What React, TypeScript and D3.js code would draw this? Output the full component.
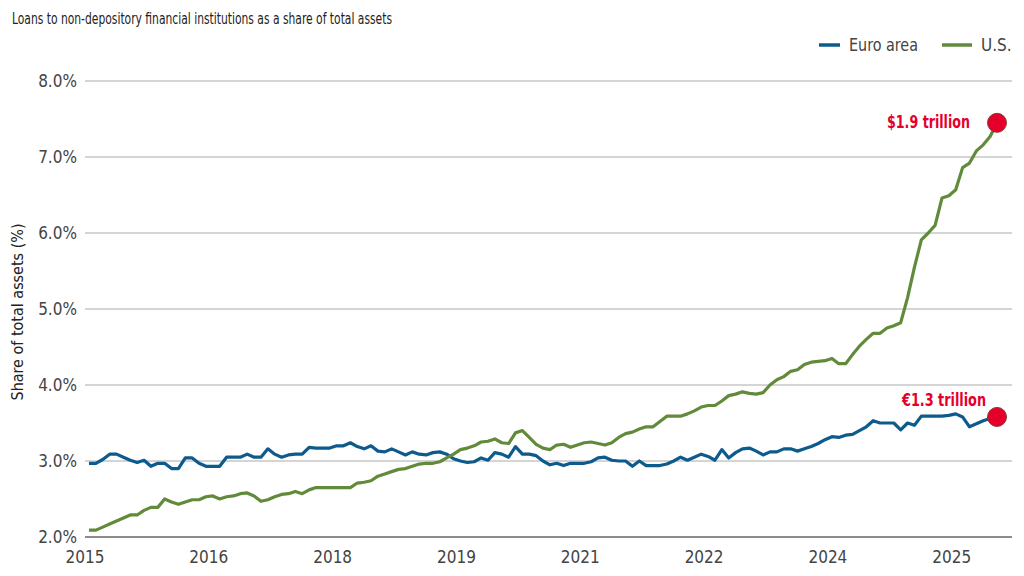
import React from "react";
import { scaleLinear, line, curveLinear } from "d3";

// monthly observations, Jan 2015 .. Jan 2026
const euroArea = [
  2.97, 2.97, 3.02, 3.09, 3.09, 3.05, 3.01, 2.98, 3.01, 2.93, 2.97, 2.97, 2.9, 2.9, 3.04, 3.04, 2.97, 2.93, 2.93,
  2.93, 3.05, 3.05, 3.05, 3.09, 3.05, 3.05, 3.16, 3.09, 3.05, 3.08, 3.09, 3.09, 3.18, 3.17, 3.17, 3.17, 3.2, 3.2,
  3.24, 3.19, 3.16, 3.2, 3.13, 3.12, 3.16, 3.12, 3.08, 3.12, 3.09, 3.08, 3.11, 3.12, 3.09, 3.03, 3.0, 2.98, 2.99,
  3.04, 3.01, 3.11, 3.09, 3.05, 3.19, 3.09, 3.09, 3.07, 3.0, 2.95, 2.97, 2.94, 2.97, 2.97, 2.97, 2.99, 3.04, 3.05,
  3.01, 3.0, 3.0, 2.93, 3.0, 2.94, 2.94, 2.94, 2.96, 3.0, 3.05, 3.01, 3.05, 3.09, 3.06, 3.01, 3.15, 3.04, 3.11,
  3.16, 3.17, 3.13, 3.08, 3.12, 3.12, 3.16, 3.16, 3.13, 3.16, 3.19, 3.23, 3.28, 3.32, 3.31, 3.34, 3.35, 3.4, 3.45,
  3.53, 3.5, 3.5, 3.5, 3.41, 3.5, 3.47, 3.59, 3.59, 3.59, 3.59, 3.6, 3.62, 3.58, 3.45, 3.49, 3.53, 3.56, 3.58,
];

const us = [
  2.09, 2.09, 2.13, 2.17, 2.21, 2.25, 2.29, 2.29, 2.35, 2.39, 2.39, 2.5, 2.46, 2.43, 2.46, 2.49, 2.49, 2.53, 2.54,
  2.5, 2.53, 2.54, 2.57, 2.58, 2.54, 2.47, 2.49, 2.53, 2.56, 2.57, 2.6, 2.57, 2.62, 2.65, 2.65, 2.65, 2.65, 2.65,
  2.65, 2.71, 2.72, 2.74, 2.8, 2.83, 2.86, 2.89, 2.9, 2.93, 2.96, 2.97, 2.97, 2.99, 3.04, 3.09, 3.15, 3.17, 3.2,
  3.25, 3.26, 3.29, 3.24, 3.23, 3.37, 3.4, 3.31, 3.22, 3.17, 3.15, 3.21, 3.22, 3.18, 3.21, 3.24, 3.25, 3.23, 3.21,
  3.24, 3.31, 3.36, 3.38, 3.42, 3.45, 3.45, 3.52, 3.59, 3.59, 3.59, 3.62, 3.66, 3.71, 3.73, 3.73, 3.79, 3.86, 3.88,
  3.91, 3.89, 3.88, 3.9, 4.0, 4.07, 4.11, 4.18, 4.2, 4.27, 4.3, 4.31, 4.32, 4.35, 4.28, 4.28, 4.4, 4.51, 4.6,
  4.68, 4.68, 4.75, 4.78, 4.82, 5.15, 5.55, 5.91, 6.0, 6.1, 6.46, 6.49, 6.57, 6.86, 6.92, 7.08, 7.16, 7.27, 7.45,
];

// a label every 18 months
const xTickLabels = ["2015", "2016", "2018", "2019", "2021", "2022", "2024", "2025"];
const xTickStep = 18;
const yTicks = [2, 3, 4, 5, 6, 7, 8];

const seriesNames = ["Euro area", "U.S."];
const endLabels = ["€1.3 trillion", "$1.9 trillion"];

const BLUE = "#0d5b8c";
const GREEN = "#618b3b";
const RED = "#e4002b";
const FONT = "'Liberation Sans Narrow', 'DejaVu Sans Condensed', Roboto, sans-serif";

export default function App() {
  const width = 1024,
    height = 576;

  const x = scaleLinear()
    .domain([0, us.length - 1])
    .range([89, 997]);

  const y = scaleLinear().domain([2, 8]).range([537, 81]);

  const path = line<number>()
    .x((d, i) => x(i))
    .y(d => y(d))
    .curve(curveLinear);

  const series = [
    { name: seriesNames[0], values: euroArea, color: BLUE, label: endLabels[0], dx: -11, dy: -11, w: 84 },
    { name: seriesNames[1], values: us, color: GREEN, label: endLabels[1], dx: -27, dy: 5, w: 83 },
  ];

  return (
    <svg
      width={width}
      height={height}
      style={{ position: "absolute", left: 0, top: 0, background: "#fff" }}
      fontFamily={FONT}
    >
      <text x={12} y={24} fontSize={16} fill="#222" textLength={380} lengthAdjust="spacingAndGlyphs">
        Loans to non-depository financial institutions as a share of total assets
      </text>

      {/* legend */}
      <g fontSize={17} fill="#444">
        <line x1={819} x2={840} y1={45} y2={45} stroke={BLUE} strokeWidth={3.5} />
        <text x={849} y={51} textLength={69} lengthAdjust="spacingAndGlyphs">
          {seriesNames[0]}
        </text>
        <line x1={942} x2={972} y1={45} y2={45} stroke={GREEN} strokeWidth={3.5} />
        <text x={981} y={51}>
          {seriesNames[1]}
        </text>
      </g>

      {/* y grid + labels */}
      {yTicks.map(t => (
        <g key={t}>
          <line
            x1={85}
            x2={1012}
            y1={y(t)}
            y2={y(t)}
            stroke={t === 2 ? "#666" : "#aaa"}
            strokeWidth={t === 2 ? 1.5 : 1}
          />
          <text x={77} y={y(t) + 6} textAnchor="end" fontSize={17} fill="#444">
            {t.toFixed(1)}%
          </text>
        </g>
      ))}

      <text
        transform={`translate(23, ${y(5) + 3}) rotate(-90)`}
        textAnchor="middle"
        fontSize={16}
        fill="#222"
        textLength={177}
        lengthAdjust="spacingAndGlyphs"
      >
        Share of total assets (%)
      </text>

      {/* x labels */}
      {xTickLabels.map((lab, k) => (
        <text
          key={lab}
          x={x(k * xTickStep) - 4}
          y={563}
          textAnchor="middle"
          fontSize={17}
          fill="#444"
        >
          {lab}
        </text>
      ))}

      {series.map(s => (
        <path
          key={s.name}
          d={path(s.values) || ""}
          fill="none"
          stroke={s.color}
          strokeWidth={3.2}
          strokeLinejoin="round"
        />
      ))}

      {series.map(s => {
        const last = s.values.length - 1;
        return (
          <g key={s.name + "-end"}>
            <circle cx={x(last)} cy={y(s.values[last])} r={9.5} fill={RED} stroke="#8a3a3a" strokeWidth={1} />
            <text
              x={x(last) + s.dx - s.w}
              y={y(s.values[last]) + s.dy}
              fontSize={17}
              fontWeight="bold"
              fill={RED}
              textLength={s.w}
              lengthAdjust="spacingAndGlyphs"
            >
              {s.label}
            </text>
          </g>
        );
      })}
    </svg>
  );
}
